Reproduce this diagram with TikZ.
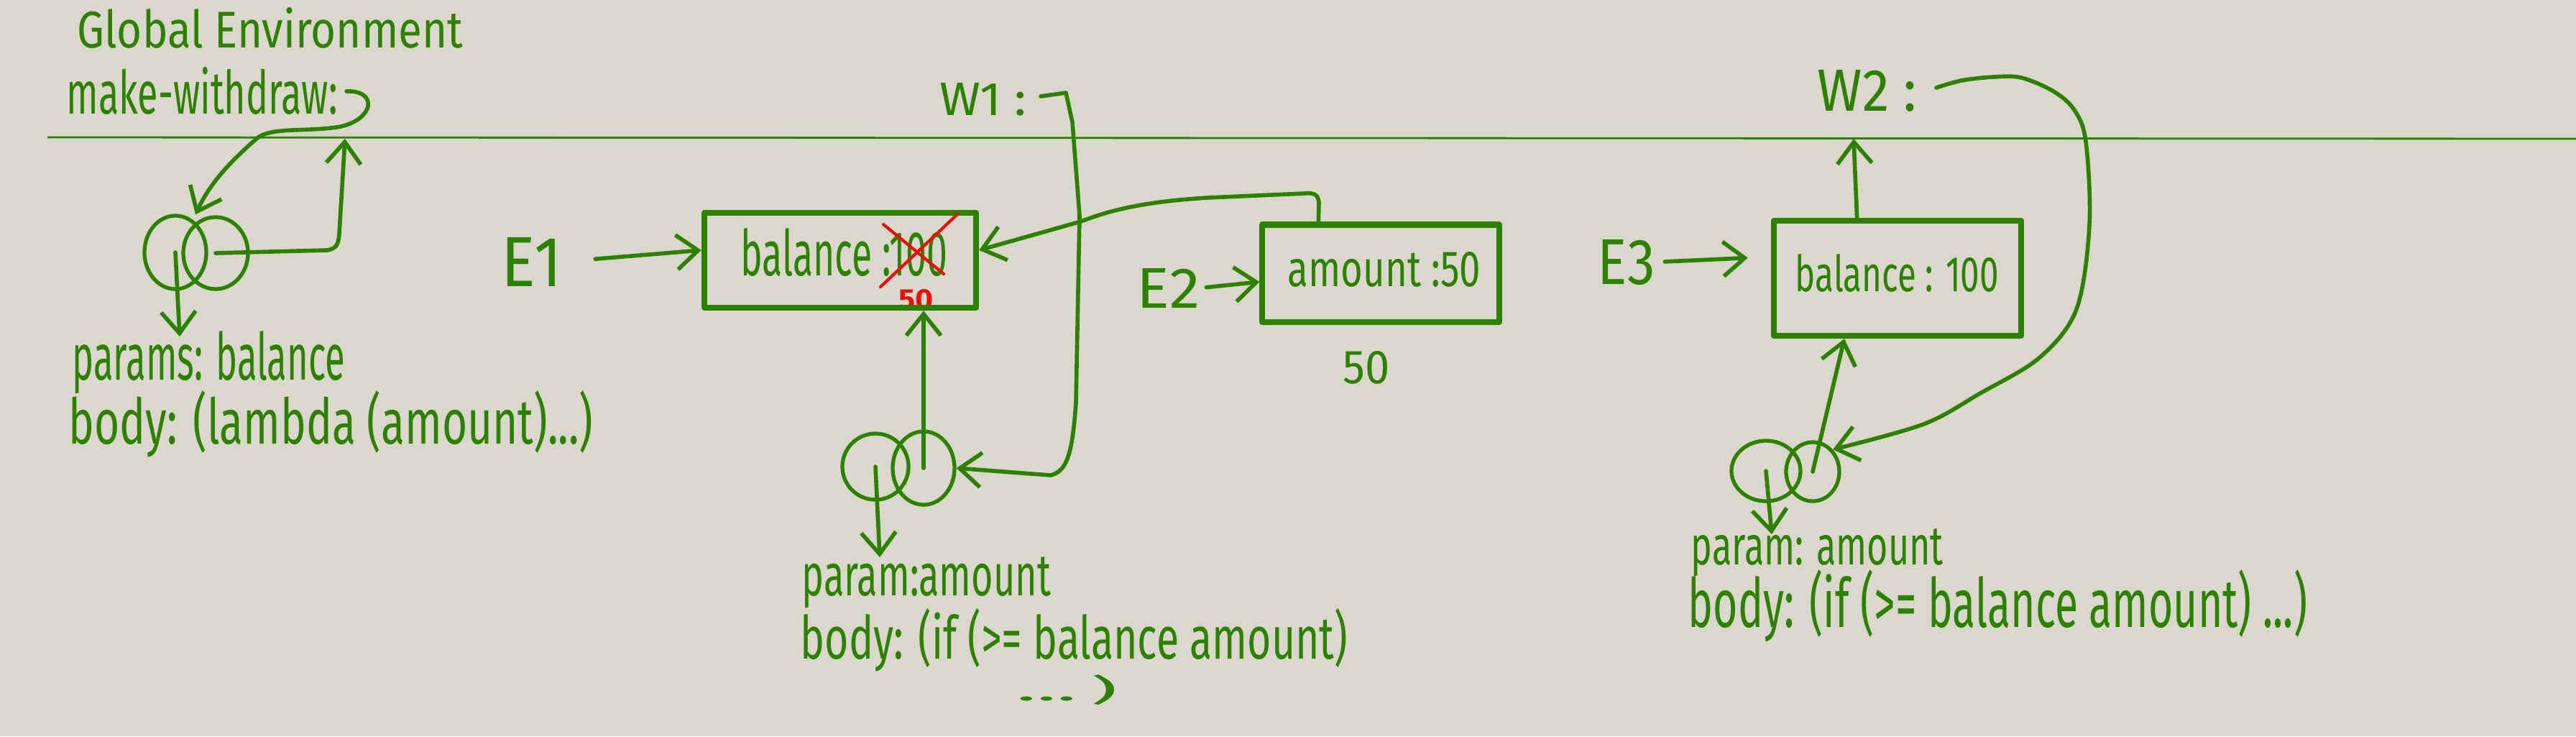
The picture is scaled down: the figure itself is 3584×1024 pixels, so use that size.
\documentclass[tikz,border=0pt]{standalone}
\usepackage{fontspec}
\setmainfont{Fira Sans}
\usepackage{graphicx}
\usetikzlibrary{arrows.meta,shapes.geometric,calc}
\definecolor{hwgreen}{RGB}{46,128,0}
\definecolor{hwred}{RGB}{232,16,8}
\definecolor{paper}{RGB}{218,216,204}
\newcommand{\hw}[3]{\resizebox{#1cm}{#2cm}{#3}}
\begin{document}
\begin{tikzpicture}[x=0.01cm,y=-0.01cm,
  stroke/.style={draw=hwgreen, line width=1.6pt, line cap=round, line join=round},
  conn/.style={stroke, -{Straight Barb[length=0.3cm,width=0.48cm]}},
  boxn/.style={draw=hwgreen, line width=2.3pt, inner sep=0pt, line join=round},
  ring/.style={ellipse, draw=hwgreen, line width=1.5pt, inner sep=0pt},
  txt/.style={inner sep=0pt, anchor=base west, text=hwgreen},
  redtxt/.style={inner sep=0pt, anchor=base west, text=hwred, font=\bfseries}]
\fill[paper] (0,0) rectangle (3584,1024);
\useasboundingbox (0,0) rectangle (3584,1024);
% frame line of the global environment
\draw[hwgreen, line width=0.8pt] (66,191) -- (3584,193);

% texts
\node[txt] (ge) at (107,66) {\hw{5.36}{0.56}{Global Environment}};
\node[txt] (mw) at (92,158) {\hw{3.77}{0.65}{make-withdraw:}};
\node[txt] (pb) at (100,528) {\hw{3.79}{0.68}{params: balance}};
\node[txt] (bl) at (95,617) {\hw{7.29}{0.74}{body: (lambda (amount)...)}};
\node[txt] (e1) at (697,398) {\hw{0.84}{0.68}{E1}};
\node[txt] (t1) at (1030,383) {\hw{2.87}{0.66}{balance :100}};
\node[redtxt] (r50) at (1250,430) {\hw{0.48}{0.28}{50}};
\node[txt] (e2) at (1581,428) {\hw{0.88}{0.55}{E2}};
\node[txt] (t2) at (1791,398) {\hw{2.68}{0.48}{amount :50}};
\node[txt] (f50) at (1868,533) {\hw{0.65}{0.45}{50}};
\node[txt] (w1) at (1307,160) {\hw{1.20}{0.45}{W1 :}};
\node[txt] (pa2) at (1115,828) {\hw{3.46}{0.54}{param:amount}};
\node[txt] (bi2) at (1113,916) {\hw{7.61}{0.70}{body: (if (>= balance amount)}};
\node[txt] (dd2) at (1414,974) {\hw{1.40}{0.36}{...\,)}};
\node[txt] (w2) at (2528,155) {\hw{1.38}{0.57}{W2 :}};
\node[txt] (e3) at (2222,395) {\hw{0.80}{0.62}{E3}};
\node[txt] (t3) at (2497,405) {\hw{2.83}{0.52}{balance : 100}};
\node[txt] (pa3) at (2352,785) {\hw{3.51}{0.50}{param: amount}};
\node[txt] (bi3) at (2348,872) {\hw{8.61}{0.80}{body: (if (>= balance amount) ...)}};

% frames
\node[boxn, minimum width=3.78cm, minimum height=1.32cm] (b1) at (1169,362) {};
\node[boxn, minimum width=3.29cm, minimum height=1.35cm] (b2) at (1921,380) {};
\node[boxn, minimum width=3.44cm, minimum height=1.60cm] (b3) at (2640,387) {};

% procedure objects
\node[ring, minimum width=0.86cm, minimum height=1.02cm] (L1) at (244,351) {};
\node[ring, minimum width=0.90cm, minimum height=1.00cm] (R1) at (300,352) {};
\node[ring, minimum width=0.92cm, minimum height=0.92cm] (L2) at (1218,649) {};
\node[ring, minimum width=0.86cm, minimum height=1.02cm] (R2) at (1285,651) {};
\node[ring, minimum width=0.96cm, minimum height=0.84cm] (L3) at (2457,655) {};
\node[ring, minimum width=0.74cm, minimum height=0.82cm] (R3) at (2522,656) {};

% red correction
\draw[hwred, line width=1.2pt, line cap=round] (1332,298) -- (1225,399);
\draw[hwred, line width=1.2pt, line cap=round] (1229,312) -- (1313,381);

% coordinates
\coordinate (mwc) at (482,127);
\coordinate (g1) at (480,193);
\coordinate (p1) at (250,468);
\coordinate (p2) at (1224,775);
\coordinate (p3) at (2465,743);
\coordinate (w1c) at (1448,134);
\coordinate (g3) at (2579,193);
\coordinate (w2c) at (2694,122);

% connectors
\draw[conn] (mwc) .. controls (525,125) and (522,165) .. (474,176)
  .. controls (430,184) and (378,176) .. (358,192)
  .. controls (320,225) and (292,255) .. ($(L1.north)!0.5!(R1.north)$);
\draw[conn] (R1.center) -- (455,348) .. controls (468,346) and (471,340) .. (472,325) -- (g1);
\draw[conn] (L1.center) -- (p1);
\draw[conn, shorten <=0.46cm] (e1.east) -- ([yshift=4pt]b1.west);
\draw[conn] (w1c) -- (1483,129) -- (1492,170) -- (1502,300) -- (1497,560)
  .. controls (1492,630) and (1485,655) .. (1462,661) -- (R2.east);
\draw[conn] (R2.center) -- (R2.center |- b1.south);
\draw[conn] (L2.center) -- (p2);
\draw[conn] ($(b2.north west)!0.243!(b2.north east)$) -- (1835,282)
  .. controls (1834,270) and (1828,268) .. (1815,269) -- (1680,275)
  .. controls (1600,280) and (1550,290) .. (1504,308) -- ([yshift=4pt]b1.east);
\draw[conn, shorten <=0.08cm] (e2.east) -- ([yshift=-3.4pt]b2.west);
\draw[conn, shorten <=0.13cm, shorten >=0.32cm] (e3.east) -- ([yshift=8.5pt]b3.west);
\draw[conn] ($(b3.north west)!0.34!(b3.north east)$) -- (g3);
\draw[conn] plot[smooth, tension=0.55] coordinates {(w2c) (2729,112) (2774,107) (2812,108) (2857,127) (2886,153) (2902,197) (2907,313) (2889,430) (2838,497) (2755,547) (2676,590) (R3.north east)};
\draw[conn] (R3.center) -- ($(b3.south west)!0.29!(b3.south east)$);
\draw[conn] (L3.center) -- (p3);
\end{tikzpicture}
\end{document}
